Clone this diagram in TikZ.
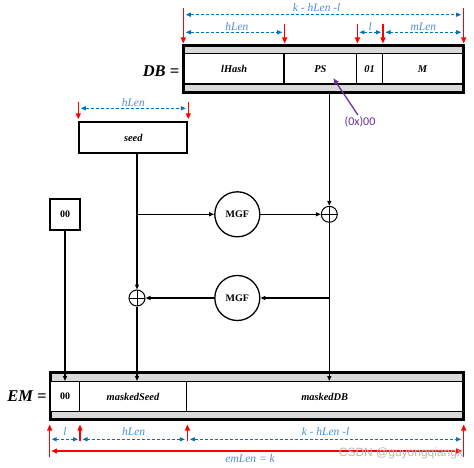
\documentclass[tikz,border=0pt]{standalone}
\usepackage{fontspec}
\setmainfont{Liberation Serif}
\newfontfamily\calfont{Carlito}
\newfontfamily\wmfont{Liberation Sans}
\usetikzlibrary{arrows.meta}
\definecolor{dimblue}{HTML}{0070C0}
\definecolor{labblue}{HTML}{4F8FCF}
\definecolor{stripgray}{HTML}{D9D9D9}
\definecolor{purp}{HTML}{7030A0}
\begin{document}
\begin{tikzpicture}[x=1pt,y=-1pt,
  bar/.style={draw, line width=2pt, fill=stripgray, inner sep=0pt},
  field/.style={draw, line width=1.4pt, fill=white, inner sep=0pt,
    font=\fontsize{10.4}{12}\selectfont\bfseries\itshape},
  box/.style={draw, line width=2pt, fill=white, inner sep=0pt},
  conn/.style={line width=1.2pt, -{Triangle[length=5pt,width=4pt]}},
  redarr/.style={red, line width=1.3pt, -{Triangle[length=6pt,width=5pt]}},
  reddbl/.style={red, line width=1.3pt, {Triangle[length=6pt,width=5pt]}-{Triangle[length=6pt,width=5pt]}},
  dim/.style={dimblue, line width=1.1pt, densely dashed, {Triangle[length=5pt,width=4pt]}-{Triangle[length=5pt,width=4pt]}},
  dimlabel/.style={labblue, inner sep=0pt, font=\itshape\fontsize{11.5}{13}\selectfont},
  xor/.style={circle, draw, line width=1pt, minimum size=16pt, inner sep=0pt,
    path picture={\draw[line width=1pt] (path picture bounding box.north) -- (path picture bounding box.south)
      (path picture bounding box.west) -- (path picture bounding box.east);}},
  mgf/.style={circle, draw, line width=1.3pt, minimum size=45pt, inner sep=0pt,
    font=\bfseries\fontsize{10}{12}\selectfont},
  biglabel/.style={font=\bfseries\itshape\fontsize{16.5}{18}\selectfont, inner sep=0pt}
]
\fill[white] (0,0) rectangle (474,468);
\useasboundingbox (0,0) rectangle (474,468);

% ---------- DB bar ----------
\node[bar, minimum width=278.4pt, minimum height=45.7pt] (db) at (323.5,68.85) {};
\node[field, minimum width=99.7pt, minimum height=30.7pt] (lhash) at (234.15,68.65) {lHash};
\node[field, minimum width=72.7pt, minimum height=30.7pt] (ps) at (320.35,68.65) {PS};
\node[field, minimum width=25.6pt, minimum height=30.7pt] (zeroone) at (369.5,68.65) {01};
\node[field, minimum width=80.4pt, minimum height=30.7pt] (mm) at (422.5,68.65) {M};
\draw[line width=2pt] (db.north west) rectangle (db.south east);
\node[biglabel] (dblabel) at (161,70.7) {DB =};

% ---------- EM bar ----------
\node[bar, minimum width=412pt, minimum height=45.7pt] (em) at (256.7,396.15) {};
\node[field, minimum width=28.6pt, minimum height=30pt, font=\bfseries\fontsize{10}{12}\selectfont] (emzz) at (65,396.7) {00};
\node[field, minimum width=107.4pt, minimum height=30pt] (mseed) at (133,396.7) {maskedSeed};
\node[field, minimum width=276pt, minimum height=30pt] (mdb) at (324.7,396.7) {maskedDB};
\draw[line width=2pt] (em.north west) rectangle (em.south east);
\node[biglabel] (emlabel) at (27,395.7) {EM =};

% ---------- seed, 00 ----------
\node[box, minimum width=108pt, minimum height=30.4pt,
  font=\fontsize{10.4}{12}\selectfont\bfseries\itshape] (seed) at (133.3,137.5) {seed};
\node[box, minimum width=29.3pt, minimum height=31pt,
  font=\bfseries\fontsize{10}{12}\selectfont] (zz) at (65,214.5) {00};

% ---------- MGF and XOR ----------
\node[mgf] (mgf1) at (237.3,214.3) {MGF};
\node[mgf] (mgf2) at (237.3,298) {MGF};
\node[xor] (xor1) at (329.3,214.3) {};
\node[xor] (xor2) at (137,298) {};
\coordinate (j1) at (xor2 |- mgf1);
\coordinate (j2) at (xor1 |- mgf2);

% ---------- connectors ----------
\draw[conn] (db.south -| xor1) -- (xor1.north);
\draw[conn] (xor1.south) -- (xor1 |- mdb.north);
\draw[conn] (seed.south -| xor2) -- (xor2.north);
\draw[conn] (xor2.south) -- (xor2 |- mseed.north);
\draw[conn] (j1) -- (mgf1.west);
\draw[conn] (mgf1.east) -- (xor1.west);
\draw[conn] (j2) -- (mgf2.east);
\draw[conn] (mgf2.west) -- (xor2.east);
\draw[conn] (zz.south) -- (zz.south |- emzz.north);

% ---------- (0x)00 ----------
\node[purp, inner sep=0pt, font=\calfont\fontsize{12}{14}\selectfont] (zerox) at (360,121.5) {(0x)00};
\draw[purp, line width=1.3pt, -{Triangle[length=6pt,width=5pt]}] ([shift={(-2,-1)}]zerox.north) -- ([shift={(13,9.65)}]ps.center);

% ---------- top dimensions ----------
\coordinate (t0) at (db.north west);
\coordinate (t1) at (lhash.north east |- db.north);
\coordinate (t2) at (ps.north east |- db.north);
\coordinate (t3) at (zeroone.north east |- db.north);
\coordinate (t4) at (db.north east);
\draw[redarr] ([shift={(0,-37)}]t0) -- ([shift={(0,-1.5)}]t0);
\draw[redarr] ([shift={(0,-21)}]t1) -- ([shift={(0,-1.5)}]t1);
\draw[redarr] ([shift={(0,-21)}]t2) -- ([shift={(0,-1.5)}]t2);
\draw[redarr] ([shift={(0,-21)}]t3) -- ([shift={(0,-1.5)}]t3);
\draw[redarr] ([shift={(0,-37)}]t4) -- ([shift={(0,-1.5)}]t4);
\draw[dim] ([shift={(2.5,-30.3)}]t0) -- node[dimlabel, pos=.475, above=3pt] (lk1) {k - hLen -l} ([shift={(-2.5,-30.3)}]t4);
\draw[dim] ([shift={(2.5,-12.7)}]t0) -- node[dimlabel, pos=.53, above=1.5pt] (lh1) {hLen} ([shift={(-2.5,-12.7)}]t1);
\draw[dim] ([shift={(2,-12.7)}]t2) -- node[dimlabel, midway, above=1.5pt] (ll1) {l} ([shift={(-2,-12.7)}]t3);
\draw[dim] ([shift={(2.5,-12.7)}]t3) -- node[dimlabel, midway, above=1.5pt] (lm1) {mLen} ([shift={(-2.5,-12.7)}]t4);

% ---------- seed dimensions ----------
\coordinate (s0) at (seed.north west);
\coordinate (s1) at (seed.north east);
\draw[redarr] ([shift={(0,-19.6)}]s0) -- ([shift={(0,-2)}]s0);
\draw[redarr] ([shift={(0,-19.6)}]s1) -- ([shift={(0,-2)}]s1);
\draw[dim] ([shift={(2.5,-13)}]s0) -- node[dimlabel, midway, above=1.5pt] (lh2) {hLen} ([shift={(-2.5,-13)}]s1);

% ---------- EM dimensions ----------
\coordinate (e0) at (em.south west);
\coordinate (e1) at (emzz.south east |- em.south);
\coordinate (e2) at (mseed.south east |- em.south);
\coordinate (e3) at (em.south east);
\draw[redarr] ([shift={(0,37)}]e0) -- ([shift={(0,4.5)}]e0);
\draw[redarr] ([shift={(0,21)}]e1) -- ([shift={(0,4.5)}]e1);
\draw[redarr] ([shift={(0,21)}]e2) -- ([shift={(0,4.5)}]e2);
\draw[redarr] ([shift={(0,37)}]e3) -- ([shift={(0,4.5)}]e3);
\draw[dim] ([shift={(2,19.3)}]e0) -- node[dimlabel, midway, above=3pt] (ll2) {l} ([shift={(-2,19.3)}]e1);
\draw[dim] ([shift={(2.5,19.3)}]e1) -- node[dimlabel, midway, above=3pt] (lh3) {hLen} ([shift={(-2.5,19.3)}]e2);
\draw[dim] ([shift={(2.5,19.3)}]e2) -- node[dimlabel, midway, above=3pt] (lk2) {k - hLen -l} ([shift={(-2.5,19.3)}]e3);
\draw[reddbl] ([shift={(1.5,31)}]e0) -- node[dimlabel, pos=.484, below=2.5pt] (lem) {emLen = k} ([shift={(-1.5,31)}]e3);

% ---------- watermark ----------
\node[gray!55, inner sep=0pt, font=\wmfont\fontsize{12}{14}\selectfont] (wm) at (401,453) {CSDN @guyongqiangx};
\end{tikzpicture}
\end{document}
